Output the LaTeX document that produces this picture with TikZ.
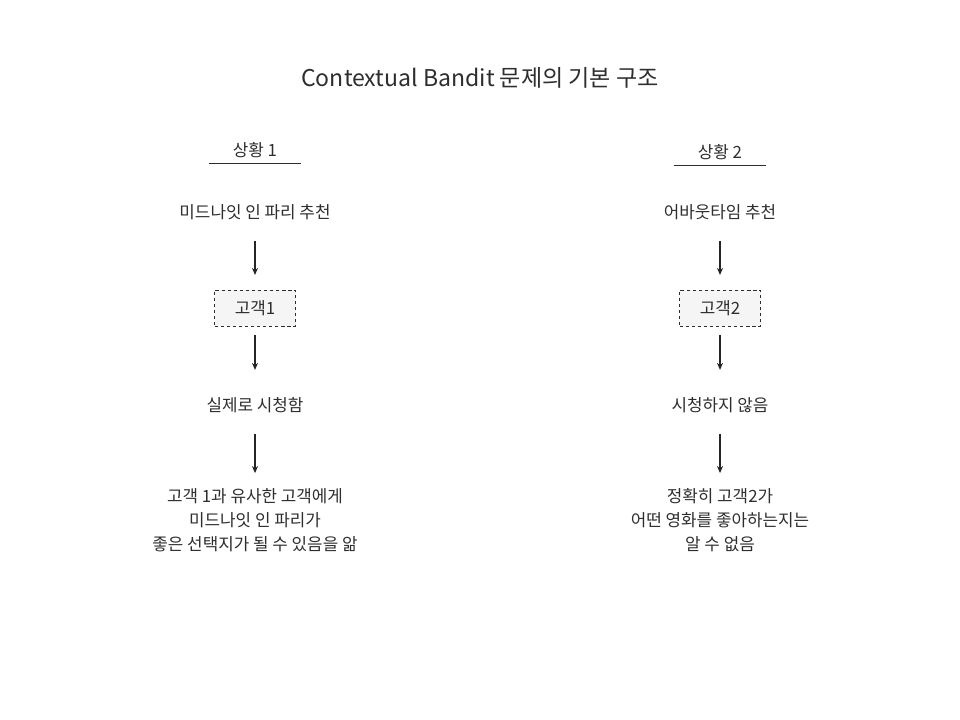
\documentclass[tikz,border=0pt]{standalone}
\usepackage{fontspec}
\setmainfont{Noto Sans CJK KR}
\usetikzlibrary{arrows.meta}
\definecolor{ink}{HTML}{2E2E2E}
\definecolor{boxfill}{HTML}{F5F5F5}

\begin{document}
\begin{tikzpicture}
  [x=0.025cm,y=-0.025cm,
   every node/.style={text=ink,inner sep=0pt,font=\fontsize{12pt}{17.2pt}\selectfont},
   caption/.style={minimum width=65.4pt,minimum height=18.5pt},
   plain/.style={minimum height=28.5pt},
   custbox/.style={draw=ink,dashed,dash pattern=on 2.5pt off 1.8pt,fill=boxfill,
     minimum width=57.6pt,minimum height=25.6pt},
   result/.style={align=center},
   flow/.style={-{Stealth[length=5pt,width=4.3pt]},draw=ink!80!black,line width=0.8pt,
     shorten <=6pt,shorten >=10.5pt}]
  \useasboundingbox (0,0) rectangle (960,720);

  \node (title) at (480,78) {\fontsize{16.4pt}{19pt}\selectfont Contextual Bandit 문제의 기본 구조};

  % left column
  \node[caption] (sit1) at (255,150) {상황 1};
  \node[plain] (rec1) at (255,212) {미드나잇 인 파리 추천};
  \node[custbox] (cust1) at (255,308) {고객1};
  \node[plain] (act1) at (255,405) {실제로 시청함};
  \node[result] (res1) at (255,520) {고객 1과 유사한 고객에게\\미드나잇 인 파리가\\좋은 선택지가 될 수 있음을 앎};

  % right column
  \node[caption] (sit2) at (720,152) {상황 2};
  \node[plain] (rec2) at (720,212) {어바웃타임 추천};
  \node[custbox] (cust2) at (720,308) {고객2};
  \node[plain] (act2) at (720,405) {시청하지 않음};
  \node[result] (res2) at (720,520) {정확히 고객2가\\어떤 영화를 좋아하는지는\\알 수 없음};

  \draw[ink,line width=0.8pt] (sit1.south west) -- (sit1.south east);
  \draw[ink,line width=0.8pt] (sit2.south west) -- (sit2.south east);

  \foreach \from/\to in {rec1/cust1,cust1/act1,act1/res1,rec2/cust2,cust2/act2,act2/res2}
    \draw[flow] (\from) -- (\to);
\end{tikzpicture}
\end{document}
